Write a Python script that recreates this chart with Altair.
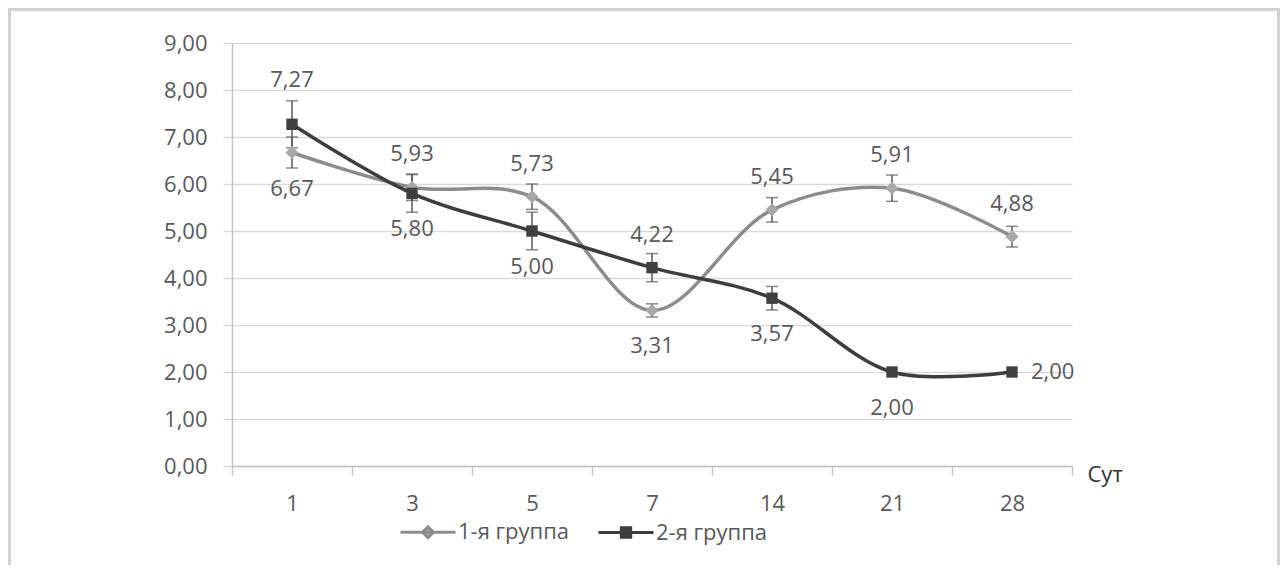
import altair as alt
import pandas as pd

days = ["1", "3", "5", "7", "14", "21", "28"]
groups = ["1-я группа", "2-я группа"]
g1 = [6.67, 5.93, 5.73, 3.31, 5.45, 5.91, 4.88]
g2 = [7.27, 5.80, 5.00, 4.22, 3.57, 2.00, 2.00]
e1 = [0.33, 0.28, 0.27, 0.14, 0.26, 0.28, 0.22]
e2 = [0.50, 0.40, 0.40, 0.30, 0.25, 0.00, 0.00]
pos1 = ["below", "above", "above", "below", "above", "above", "above"]
pos2 = ["top", "below", "below", "above", "below", "below", "right"]
y_ticks = [0, 1, 2, 3, 4, 5, 6, 7, 8, 9]

rows = []
for i, d in enumerate(days):
    rows.append(dict(day=d, group=groups[0], value=g1[i], err=e1[i], pos=pos1[i], order=i))
    rows.append(dict(day=d, group=groups[1], value=g2[i], err=e2[i], pos=pos2[i], order=i))
df = pd.DataFrame(rows)

FONT = "Open Sans"
FS = 22
TXT = "#595959"
LINE1, LINE2 = "#8c8c8c", "#3d3d3d"
MARK1, MARK2 = "#a8a8a8", "#404040"
ERR = "#595959"
GRID = "#d9d9d9"
AXIS = "#c4c4c4"
fmt = "replace(format(datum.value, '.2f'), '.', ',')"

xscale = alt.Scale(type="band", paddingInner=0, paddingOuter=0)
xaxis = alt.Axis(
    title="Сут", titleX=855, titleY=8, titleAlign="left", titleBaseline="middle",
    titleAngle=0, titleFontSize=FS, titleFont=FONT, titleFontWeight="normal", titleColor="#333333",
    labelAngle=0, labelFont=FONT, labelFontSize=FS, labelColor=TXT, labelPadding=18,
    tickBand="extent", tickSize=9, tickColor=AXIS, tickWidth=1.5,
    domainColor=AXIS, domainWidth=1.5, grid=False,
)
yscale = alt.Scale(domain=[0, 9], nice=False, zero=True)
yaxis = alt.Axis(
    title=None, values=y_ticks, labelExpr=fmt, labelFont=FONT, labelFontSize=FS,
    labelColor=TXT, labelPadding=16, tickSize=9, tickColor=GRID, tickWidth=1.5,
    domainColor=AXIS, domainWidth=1.5, grid=True, gridColor=GRID, gridWidth=1.5,
)


def X():
    return alt.X("day:O", sort=days, scale=xscale, axis=xaxis)


def Y(f):
    return alt.Y(f, scale=yscale, axis=yaxis)


base = alt.Chart(df)

layers = []
for g, c in [(groups[0], LINE1), (groups[1], LINE2)]:
    layers.append(
        base.transform_filter(alt.datum.group == g)
        .mark_line(interpolate="catmull-rom", color=c, strokeWidth=3.5)
        .encode(x=X(), y=Y("value:Q"), order="order:Q")
    )

err = base.transform_filter("datum.err > 0").transform_calculate(
    lo="datum.value - datum.err", hi="datum.value + datum.err"
)
layers.append(err.mark_rule(color=ERR, strokeWidth=1.5).encode(x=X(), y=Y("lo:Q"), y2="hi:Q"))
layers.append(err.mark_tick(color=ERR, thickness=1.5, size=12).encode(x=X(), y=Y("lo:Q")))
layers.append(err.mark_tick(color=ERR, thickness=1.5, size=12).encode(x=X(), y=Y("hi:Q")))

layers.append(
    base.transform_filter(alt.datum.group == groups[0])
    .mark_point(shape="diamond", filled=True, color=MARK1, size=170, opacity=1)
    .encode(x=X(), y=Y("value:Q"))
)
layers.append(
    base.transform_filter(alt.datum.group == groups[1])
    .mark_point(shape="square", filled=True, color=MARK2, size=130, opacity=1)
    .encode(x=X(), y=Y("value:Q"))
)

for p, kw in [
    ("above", dict(dy=-33, align="center")),
    ("top", dict(dy=-44, align="center")),
    ("below", dict(dy=36, align="center")),
    ("right", dict(dx=19, align="left")),
]:
    layers.append(
        base.transform_filter(alt.datum.pos == p)
        .transform_calculate(label=fmt)
        .mark_text(font=FONT, fontSize=FS, color=TXT, baseline="middle", **kw)
        .encode(x=X(), y=Y("value:Q"), text="label:N")
    )

leg = alt.Legend(
    orient="none", legendX=167, legendY=460, direction="horizontal", title=None,
    labelFont=FONT, labelFontSize=FS, labelColor=TXT, symbolSize=3025,
    symbolStrokeWidth=3, symbolOpacity=1, columnPadding=22, labelOffset=1,
)
path1 = "M-1,0H1M0,-0.2L0.2,0L0,0.2L-0.2,0Z"
path2 = "M-1,0H1M-0.17,-0.17H0.17V0.17H-0.17Z"
layers.append(
    base.mark_point(opacity=0).encode(
        x=X(), y=Y("value:Q"),
        shape=alt.Shape("group:N", scale=alt.Scale(domain=groups, range=[path1, path2]), legend=leg),
        stroke=alt.Stroke("group:N", scale=alt.Scale(domain=groups, range=[LINE1, LINE2]), legend=leg),
        fill=alt.Fill("group:N", scale=alt.Scale(domain=groups, range=[MARK1, MARK2]), legend=leg),
    )
)

frame = alt.Chart(alt.Data(values=[{"k": 1}]))
FR = "#d2d2d2"
layers.append(frame.mark_rule(color=FR, strokeWidth=3).encode(
    x=alt.value(-222.5), y=alt.value(-35), y2=alt.value(522)))
layers.append(frame.mark_rule(color=FR, strokeWidth=3).encode(
    x=alt.value(1046.5), y=alt.value(-35), y2=alt.value(522)))
layers.append(frame.mark_rule(color=FR, strokeWidth=3.5).encode(
    x=alt.value(-224), x2=alt.value(1048), y=alt.value(-33.5)))

chart = alt.layer(*layers).properties(
    width=840, height=423,
    autosize=alt.AutoSizeParams(type="none"),
    padding={"left": 224, "top": 35, "right": 208, "bottom": 99},
    background="white",
).configure_view(strokeWidth=0)

chart.save("out.html", embed_options={"renderer": "svg", "actions": False})
